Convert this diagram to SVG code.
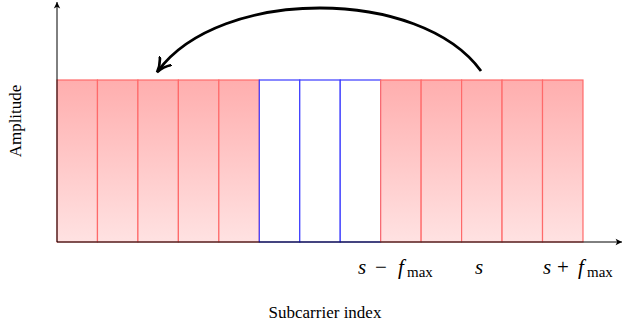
<svg xmlns="http://www.w3.org/2000/svg" width="626" height="326" viewBox="0 0 626 326">
<defs>
<linearGradient id="rg" x1="0" y1="0" x2="0" y2="1">
<stop offset="0" stop-color="#ffaeae"/>
<stop offset="1" stop-color="#ffe2e2"/>
</linearGradient>
<marker id="ah" viewBox="0 0 10 10" refX="9" refY="5" markerWidth="8" markerHeight="8" markerUnits="userSpaceOnUse" orient="auto">
<path d="M1,1 L9,5 L1,9 L3,5 Z" fill="#000"/>
</marker>
<marker id="big" viewBox="0 0 10 10" refX="8" refY="5" markerWidth="16" markerHeight="16" markerUnits="userSpaceOnUse" orient="auto">
<path d="M0,0.5 Q4,4 9,5 Q4,6 0,9.5" fill="none" stroke="#000" stroke-width="1.7" stroke-linecap="round"/>
</marker>
</defs>
<style>
.red{fill:url(#rg);stroke:#ff6a6a;stroke-width:1.2}
.blue{fill:#fff;stroke:#3a3aff;stroke-width:1.2}
.ax{stroke:#000;stroke-width:1;fill:none}
.t{font-family:"Liberation Serif",serif;font-size:17px;fill:#000}
.m{font-family:"Liberation Serif",serif;font-style:italic;font-size:21px;fill:#000}
.n{font-family:"Liberation Serif",serif;font-size:21px;fill:#000}
.sub{font-family:"Liberation Serif",serif;font-size:15px;fill:#000}
</style>
<g id="bars">
<rect class="red" x="57" y="80" width="40.46" height="162"/>
<rect class="red" x="97.46" y="80" width="40.46" height="162"/>
<rect class="red" x="137.92" y="80" width="40.46" height="162"/>
<rect class="red" x="178.38" y="80" width="40.46" height="162"/>
<rect class="red" x="218.84" y="80" width="40.46" height="162"/>
<rect class="blue" x="259.3" y="80" width="40.46" height="162"/>
<rect class="blue" x="299.76" y="80" width="40.46" height="162"/>
<rect class="blue" x="340.22" y="80" width="40.46" height="162"/>
<rect class="red" x="380.68" y="80" width="40.46" height="162"/>
<rect class="red" x="421.14" y="80" width="40.46" height="162"/>
<rect class="red" x="461.6" y="80" width="40.46" height="162"/>
<rect class="red" x="502.06" y="80" width="40.46" height="162"/>
<rect class="red" x="542.52" y="80" width="40.46" height="162"/>
</g>
<g id="connectors">
<line class="ax" x1="57" y1="242" x2="57" y2="2" marker-end="url(#ah)"/>
<line class="ax" x1="57" y1="242" x2="622" y2="242" marker-end="url(#ah)"/>
<path d="M481,71 C420,-13 220,-13 158,71" fill="none" stroke="#000" stroke-width="2.8" marker-end="url(#big)"/>
</g>
<g id="labels">
<text x="0" y="274"><tspan class="m" x="358">s</tspan><tspan class="n" x="375">−</tspan><tspan class="m" x="398">f</tspan><tspan class="sub" x="407" y="277">max</tspan></text>
<text class="m" x="475" y="274">s</text>
<text x="0" y="274"><tspan class="m" x="543">s</tspan><tspan class="n" x="557">+</tspan><tspan class="m" x="578">f</tspan><tspan class="sub" x="587" y="277">max</tspan></text>
<text class="t" x="325" y="318" text-anchor="middle">Subcarrier index</text>
<text class="t" x="0" y="0" text-anchor="middle" transform="translate(21,121) rotate(-90)">Amplitude</text>
</g>
</svg>
